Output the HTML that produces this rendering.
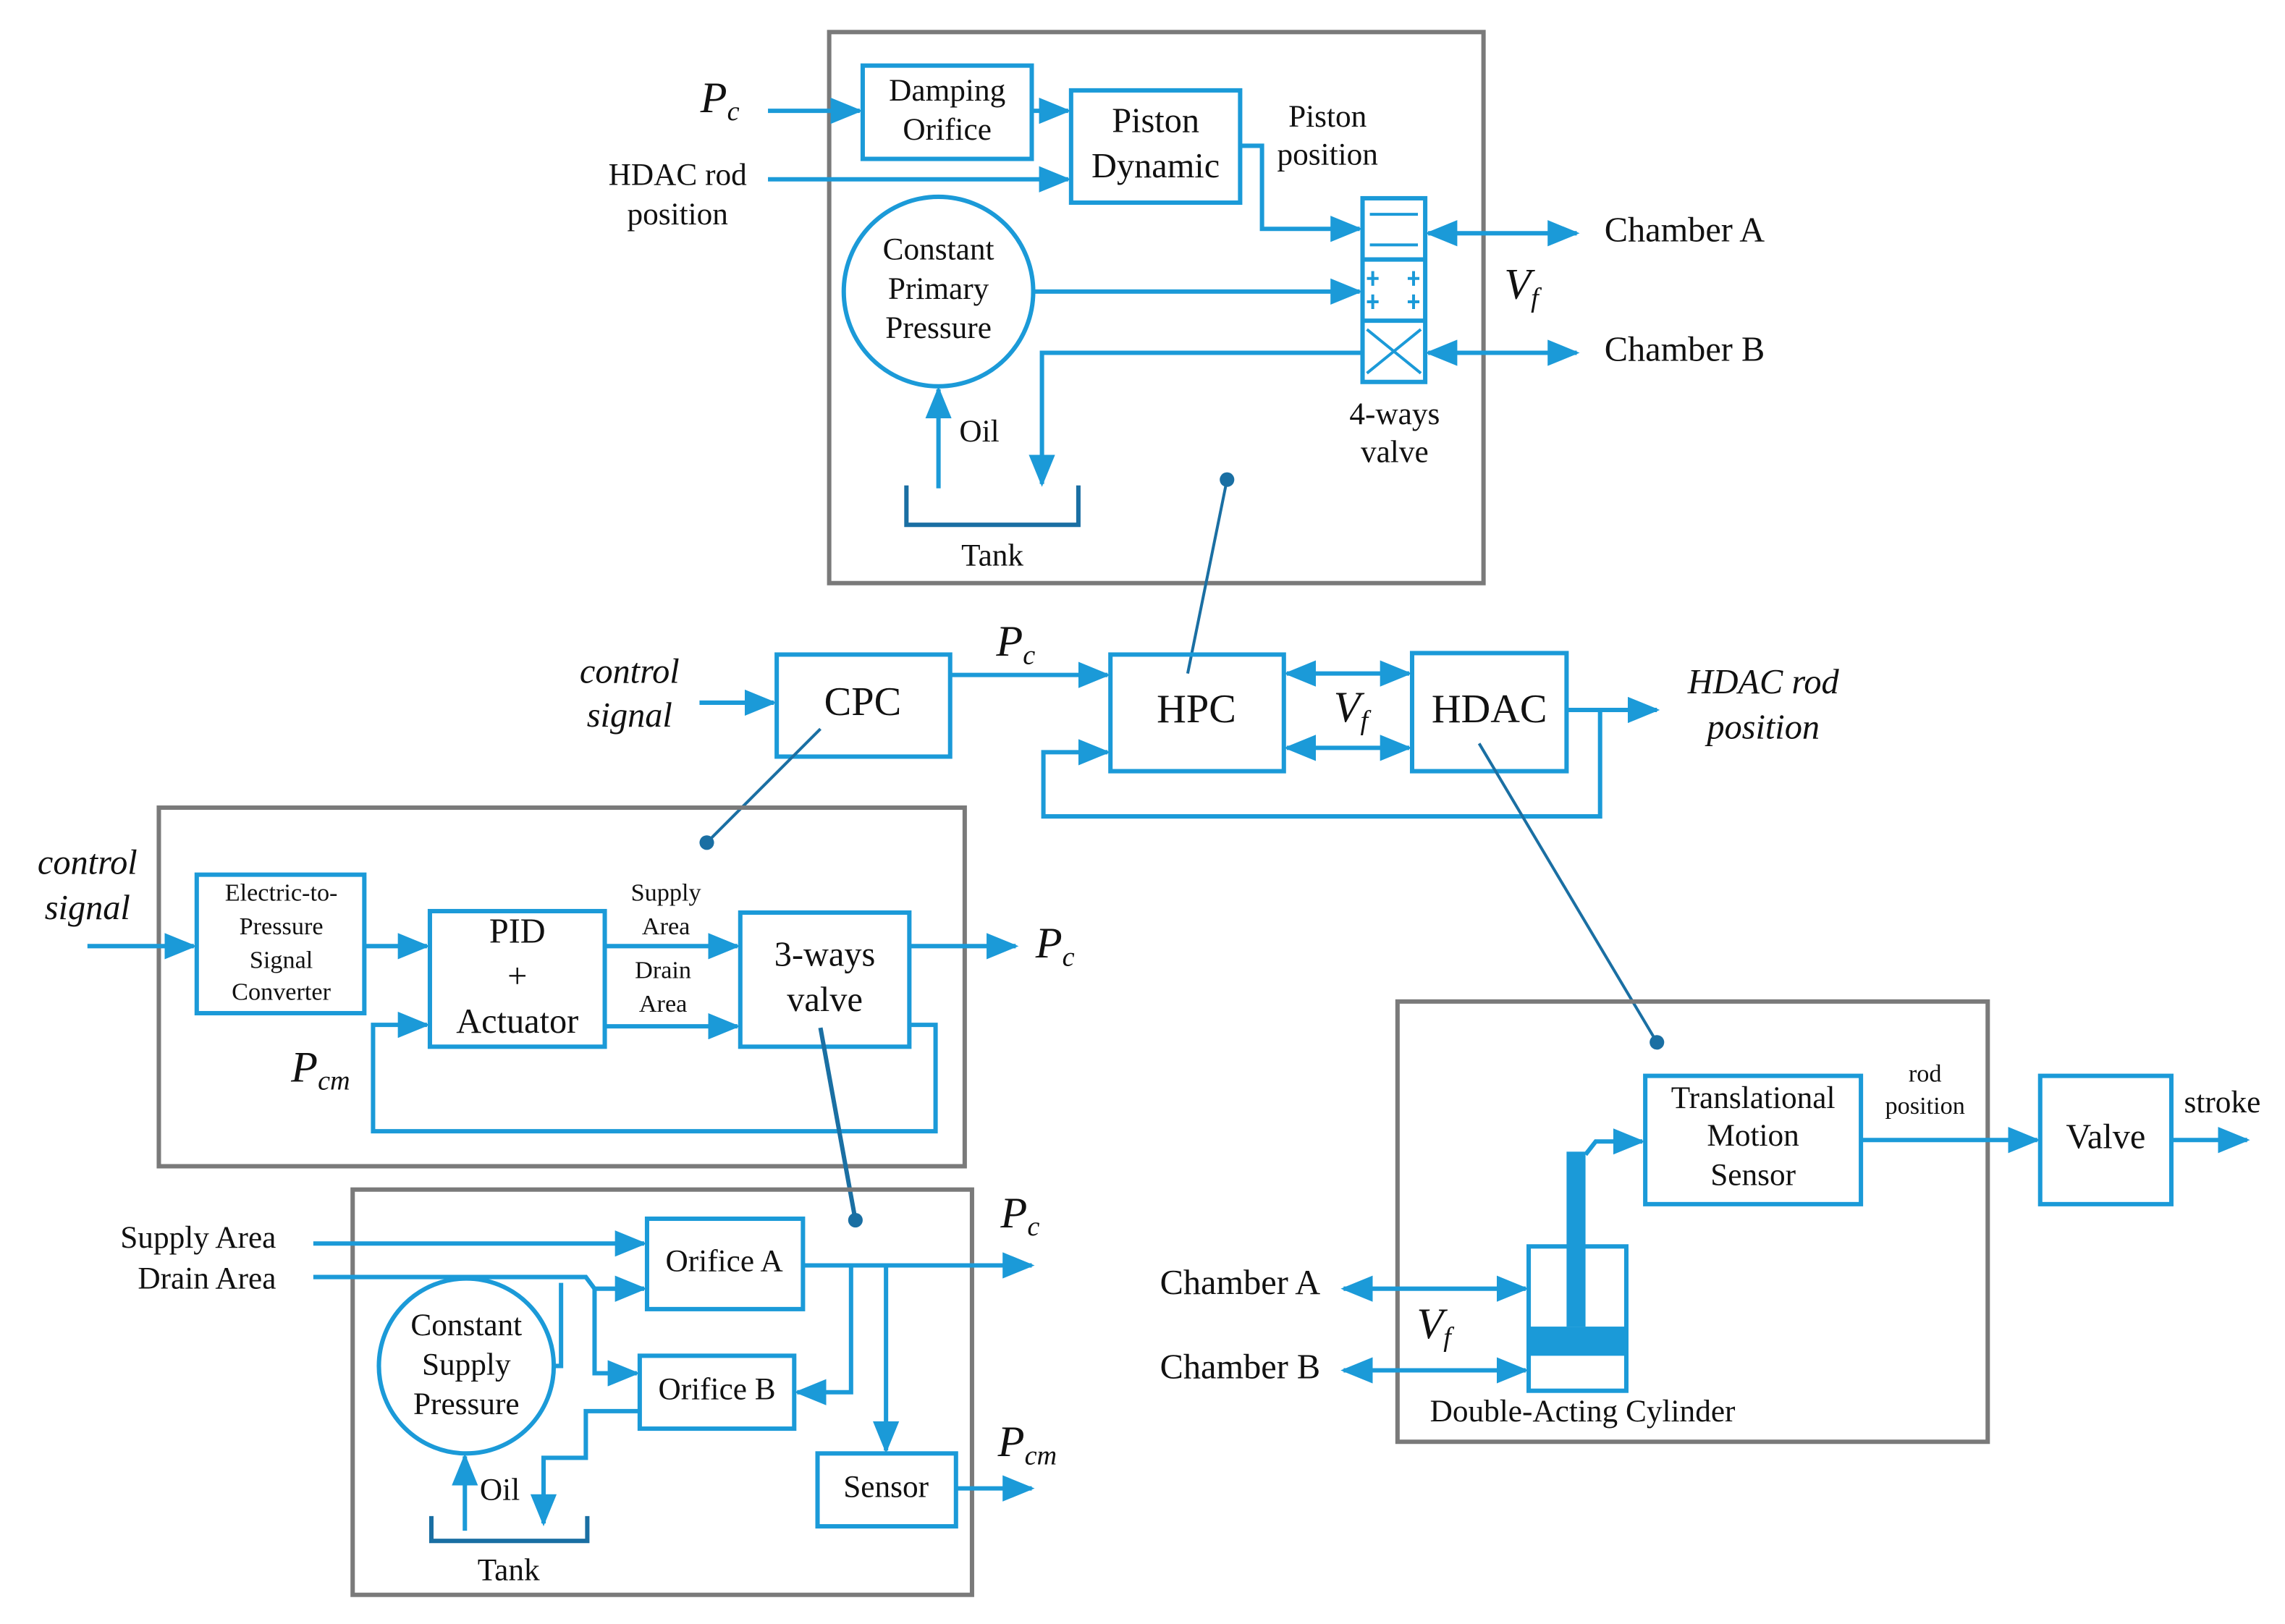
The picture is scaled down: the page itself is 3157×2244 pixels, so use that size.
<!DOCTYPE html>
<html><head><meta charset="utf-8"><style>
html,body{margin:0;padding:0;background:#fff;}
svg{display:block;}
text{font-family:"Liberation Serif",serif;fill:#111;text-anchor:middle;dominant-baseline:middle;}
.b{fill:none;stroke:#1b9ad8;stroke-width:3;}
.g{fill:none;stroke:#7a7a7a;stroke-width:3;}
.l{fill:none;stroke:#1b9ad8;stroke-width:3;}
.c{fill:none;stroke:#1a6fa3;stroke-width:2;}
.t22{font-size:24px;}
.t20{font-size:21.5px;}
.t16{font-size:17px;}
.i{font-style:italic;}
</style></head><body>
<svg width="3157" height="2244" viewBox="0 0 1568 1114" preserveAspectRatio="none" xmlns="http://www.w3.org/2000/svg">
<defs>
<marker id="a" markerUnits="userSpaceOnUse" markerWidth="22" markerHeight="18" refX="20" refY="9" orient="auto-start-reverse"><path d="M0,0 L22,9 L0,18 z" fill="#1b9ad8"/></marker>
</defs>
<rect width="1568" height="1114" fill="#fff"/>

<!-- TOP BOX -->
<rect class="g" x="569" y="22" width="449" height="378"/>
<rect class="b" x="592" y="45" width="116" height="64"/>
<text class="t20" x="650" y="64">Damping</text><text class="t20" x="650" y="91">Orifice</text>
<rect class="b" x="735" y="62" width="116" height="77"/>
<text class="t22" x="793" y="85">Piston</text><text class="t22" x="793" y="116">Dynamic</text>
<text class="t22 i" x="494" y="70" style="font-size:30px">P<tspan font-size="19" dy="8">c</tspan></text>
<line class="l" x1="527" y1="76" x2="590" y2="76" marker-end="url(#a)"/>
<text class="t20" x="465" y="122">HDAC rod</text><text class="t20" x="465" y="149">position</text>
<line class="l" x1="527" y1="123" x2="733" y2="123" marker-end="url(#a)"/>
<line class="l" x1="708" y1="76" x2="733" y2="76" marker-end="url(#a)"/>
<text class="t20" x="911" y="82">Piston</text><text class="t20" x="911" y="108">position</text>
<polyline class="l" points="851,100 866,100 866,157 933,157" marker-end="url(#a)"/>
<rect class="b" x="935" y="136" width="43" height="126"/>
<line class="b" x1="935" y1="178" x2="978" y2="178"/><line class="b" x1="935" y1="220" x2="978" y2="220"/>
<line class="l" x1="940" y1="147" x2="973" y2="147" style="stroke-width:2"/>
<line class="l" x1="940" y1="168" x2="973" y2="168" style="stroke-width:2"/>
<path class="l" style="stroke-width:2" d="M942,186v10M938,191h8M970,186v10M966,191h8M942,202v10M938,207h8M970,202v10M966,207h8"/>
<path class="l" style="stroke-width:2" d="M938,226L975,256M975,226L938,256"/>
<circle class="b" cx="644" cy="200" r="65"/>
<text class="t20" x="644" y="173">Constant</text><text class="t20" x="644" y="200">Primary</text><text class="t20" x="644" y="227">Pressure</text>
<line class="l" x1="709" y1="200" x2="933" y2="200" marker-end="url(#a)"/>
<polyline class="l" points="935,242 715,242 715,332" marker-end="url(#a)"/>
<line class="l" x1="644" y1="335" x2="644" y2="267" marker-end="url(#a)"/>
<text class="t20" x="672" y="298">Oil</text>
<polyline class="b" style="stroke:#1a6fa3" points="622,333 622,360 740,360 740,333"/>
<text class="t20" x="681" y="383">Tank</text>
<text class="t20" x="957" y="286">4-ways</text><text class="t20" x="957" y="312">valve</text>
<line class="l" x1="980" y1="160" x2="1082" y2="160" marker-start="url(#a)" marker-end="url(#a)"/>
<line class="l" x1="980" y1="242" x2="1082" y2="242" marker-start="url(#a)" marker-end="url(#a)"/>
<text class="t22" x="1156" y="160">Chamber A</text><text class="t22" x="1156" y="242">Chamber B</text>
<text class="i" x="1044" y="198" style="font-size:30px">V<tspan font-size="19" dy="8">f</tspan></text>
<line class="c" x1="842" y1="329" x2="815" y2="462"/><circle cx="842" cy="329" r="5" fill="#1a6fa3"/>

<!-- MIDDLE CHAIN -->
<rect class="b" x="533" y="449" width="119" height="70"/><text x="592" y="484" style="font-size:28px">CPC</text>
<text class="t22 i" x="432" y="463">control</text><text class="t22 i" x="432" y="493">signal</text>
<line class="l" x1="480" y1="482" x2="531" y2="482" marker-end="url(#a)"/>
<text class="i" x="697" y="443" style="font-size:30px">P<tspan font-size="19" dy="8">c</tspan></text>
<line class="l" x1="652" y1="463" x2="760" y2="463" marker-end="url(#a)"/>
<rect class="b" x="762" y="449" width="119" height="80"/><text x="821" y="489" style="font-size:28px">HPC</text>
<rect class="b" x="969" y="448" width="106" height="81"/><text x="1022" y="489" style="font-size:28px">HDAC</text>
<line class="l" x1="883" y1="462" x2="967" y2="462" marker-start="url(#a)" marker-end="url(#a)"/>
<line class="l" x1="883" y1="513" x2="967" y2="513" marker-start="url(#a)" marker-end="url(#a)"/>
<text class="i" x="927" y="488" style="font-size:30px">V<tspan font-size="19" dy="8">f</tspan></text>
<line class="l" x1="1075" y1="487" x2="1137" y2="487" marker-end="url(#a)"/>
<polyline class="l" points="1098,487 1098,560 716,560 716,516 760,516" marker-end="url(#a)"/>
<text class="t22 i" x="1210" y="470">HDAC rod</text><text class="t22 i" x="1210" y="501">position</text>
<line class="c" x1="563" y1="500" x2="485" y2="578"/><circle cx="485" cy="578" r="5" fill="#1a6fa3"/>
<line class="c" x1="1015" y1="510" x2="1137" y2="715"/><circle cx="1137" cy="715" r="5" fill="#1a6fa3"/>

<!-- LEFT MID BOX -->
<rect class="g" x="109" y="554" width="553" height="246"/>
<text class="t22 i" x="60" y="594">control</text><text class="t22 i" x="60" y="625">signal</text>
<line class="l" x1="60" y1="649" x2="133" y2="649" marker-end="url(#a)"/>
<rect class="b" x="135" y="600" width="115" height="95"/>
<text class="t16" x="193" y="614">Electric-to-</text><text class="t16" x="193" y="637">Pressure</text><text class="t16" x="193" y="660">Signal</text><text class="t16" x="193" y="682">Converter</text>
<line class="l" x1="250" y1="649" x2="293" y2="649" marker-end="url(#a)"/>
<rect class="b" x="295" y="625" width="120" height="93"/>
<text class="t22" x="355" y="641">PID</text><text class="t22" x="355" y="672">+</text><text class="t22" x="355" y="703">Actuator</text>
<text class="t16" x="457" y="614">Supply</text><text class="t16" x="457" y="637">Area</text>
<line class="l" x1="415" y1="649" x2="506" y2="649" marker-end="url(#a)"/>
<text class="t16" x="455" y="667">Drain</text><text class="t16" x="455" y="690">Area</text>
<line class="l" x1="415" y1="704" x2="506" y2="704" marker-end="url(#a)"/>
<rect class="b" x="508" y="626" width="116" height="92"/>
<text class="t22" x="566" y="657">3-ways</text><text class="t22" x="566" y="688">valve</text>
<line class="l" x1="624" y1="649" x2="697" y2="649" marker-end="url(#a)"/>
<text class="i" x="724" y="650" style="font-size:30px">P<tspan font-size="19" dy="8">c</tspan></text>
<polyline class="l" points="624,703 642,703 642,776 256,776 256,703 293,703" marker-end="url(#a)"/>
<text class="i" x="220" y="735" style="font-size:30px">P<tspan font-size="19" dy="8">cm</tspan></text>
<line class="c" x1="563" y1="705" x2="587" y2="837" style="stroke-width:3"/><circle cx="587" cy="837" r="5" fill="#1a6fa3"/>

<!-- BOTTOM LEFT BOX -->
<rect class="g" x="242" y="816" width="425" height="278"/>
<text class="t20" x="136" y="851">Supply Area</text><text class="t20" x="142" y="879">Drain Area</text>
<line class="l" x1="215" y1="853" x2="442" y2="853" marker-end="url(#a)"/>
<polyline class="l" points="215,876 402,876 408,884 442,884" marker-end="url(#a)"/>
<polyline class="l" points="408,884 408,942 437,942" marker-end="url(#a)"/>
<rect class="b" x="444" y="836" width="107" height="62"/><text class="t20" x="497" y="867">Orifice A</text>
<rect class="b" x="439" y="930" width="106" height="50"/><text class="t20" x="492" y="955">Orifice B</text>
<line class="l" x1="551" y1="868" x2="708" y2="868" marker-end="url(#a)"/>
<text class="i" x="700" y="835" style="font-size:30px">P<tspan font-size="19" dy="8">c</tspan></text>
<polyline class="l" points="584,868 584,955 547,955" marker-end="url(#a)"/>
<line class="l" x1="608" y1="868" x2="608" y2="995" marker-end="url(#a)"/>
<rect class="b" x="561" y="997" width="95" height="50"/><text class="t20" x="608" y="1022">Sensor</text>
<line class="l" x1="656" y1="1021" x2="708" y2="1021" marker-end="url(#a)"/>
<text class="i" x="705" y="992" style="font-size:30px">P<tspan font-size="19" dy="8">cm</tspan></text>
<circle class="b" cx="320" cy="937" r="60"/>
<text class="t20" x="320" y="911">Constant</text><text class="t20" x="320" y="938">Supply</text><text class="t20" x="320" y="965">Pressure</text>
<polyline class="l" points="380,937 385,937 385,880"/>
<polyline class="l" points="439,968 402,968 402,1000 373,1000 373,1045" marker-end="url(#a)"/>
<line class="l" x1="319" y1="1050" x2="319" y2="999" marker-end="url(#a)"/>
<text class="t20" x="343" y="1024">Oil</text>
<polyline class="b" style="stroke:#1a6fa3" points="296,1040 296,1057 403,1057 403,1040"/>
<text class="t20" x="349" y="1079">Tank</text>

<!-- RIGHT BOX -->
<rect class="g" x="959" y="687" width="405" height="302"/>
<rect class="b" x="1129" y="738" width="148" height="88"/>
<text class="t20" x="1203" y="755">Translational</text><text class="t20" x="1203" y="781">Motion</text><text class="t20" x="1203" y="808">Sensor</text>
<text class="t16" x="1321" y="738">rod</text><text class="t16" x="1321" y="760">position</text>
<line class="l" x1="1277" y1="782" x2="1398" y2="782" marker-end="url(#a)"/>
<rect class="b" x="1400" y="738" width="90" height="88"/><text class="t22" x="1445" y="782">Valve</text>
<text class="t20" x="1525" y="758">stroke</text>
<line class="l" x1="1490" y1="782" x2="1542" y2="782" marker-end="url(#a)"/>
<rect class="b" x="1049" y="855" width="67" height="99"/>
<rect x="1049" y="910" width="67" height="20" fill="#1b9ad8"/>
<rect x="1075" y="790" width="13" height="120" fill="#1b9ad8"/>
<polyline class="l" points="1088,792 1095,783 1127,783" marker-end="url(#a)"/>
<line class="l" x1="922" y1="884" x2="1047" y2="884" marker-start="url(#a)" marker-end="url(#a)"/>
<line class="l" x1="922" y1="940" x2="1047" y2="940" marker-start="url(#a)" marker-end="url(#a)"/>
<text class="t22" x="851" y="882">Chamber A</text><text class="t22" x="851" y="940">Chamber B</text>
<text class="i" x="984" y="911" style="font-size:30px">V<tspan font-size="19" dy="8">f</tspan></text>
<text class="t20" x="1086" y="970">Double-Acting Cylinder</text>
</svg>
</body></html>
